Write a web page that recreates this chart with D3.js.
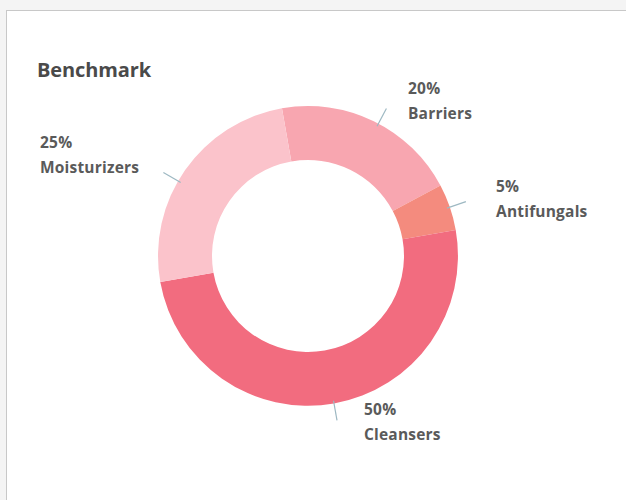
<!DOCTYPE html>
<html>
<head>
<meta charset="utf-8">
<script src="https://cdn.jsdelivr.net/npm/d3@7"></script>
<style>
  body { margin: 0; background: #f4f4f4; }
  svg { display: block; }
</style>
</head>
<body>
<svg id="chart" width="626" height="500"></svg>
<script>
// benchmark shares, in drawing order (clockwise from just left of top)
var categories = ["Barriers", "Antifungals", "Cleansers", "Moisturizers"];
var shares = [20, 5, 50, 25];
var colors = ["#f8a6b0", "#f48b7e", "#f26c7f", "#fbc3cb"];
var labelTexts = ["20%", "5%", "50%", "25%"];

var svg = d3.select('#chart');

//card
svg.append('rect')
    .attr('x', 6.5).attr('y', 10.5)
    .attr('width', 640).attr('height', 520)
    .attr('fill', '#fff')
    .attr('stroke', '#c8c8c8');

svg.append('text')
    .attr('x', 37).attr('y', 77)
    .attr('font-family', 'Open Sans, sans-serif')
    .attr('font-weight', 'bold')
    .attr('font-size', 20)
    .attr('fill', '#4a4a4a')
    .attr('letter-spacing', '-0.1')
    .text('Benchmark');

var cx = 308, cy = 256, rOuter = 150, rInner = 96;

var pie = d3.pie()
    .sort(null)
    .startAngle(-10 * Math.PI / 180)
    .endAngle(350 * Math.PI / 180);

var arcs = pie(shares);

var arc = d3.arc().innerRadius(rInner).outerRadius(rOuter);

var g = svg.append('g').attr('transform', 'translate(' + cx + ',' + cy + ')');

g.selectAll('path.slice')
    .data(arcs)
    .enter().append('path')
    .attr('class', 'slice')
    .attr('d', arc)
    .attr('fill', function(d, i){ return colors[i]; });

//leader lines - angle along the slice where the tick sits, and label anchor
var tickAngle = [28, 71, 170, 300];
var labelPos = [[408, 94], [496, 192], [364, 415], [40, 148]];

tickAngle.forEach(function(a, i){
    var rad = a * Math.PI / 180;
    var p1 = [(rOuter - 3) * Math.sin(rad), -(rOuter - 3) * Math.cos(rad)];
    var p2 = [(rOuter + 17) * Math.sin(rad), -(rOuter + 17) * Math.cos(rad)];
    g.append('line')
        .attr('x1', p1[0]).attr('y1', p1[1])
        .attr('x2', p2[0]).attr('y2', p2[1])
        .attr('stroke', '#9db8c2')
        .attr('stroke-width', 1.2);
});

var labels = svg.selectAll('g.lbl')
    .data(categories)
    .enter().append('g')
    .attr('class', 'lbl')
    .attr('transform', function(d, i){ return 'translate(' + labelPos[i][0] + ',' + labelPos[i][1] + ')'; });

labels.append('text')
    .attr('font-family', 'Open Sans, sans-serif')
    .attr('font-weight', 'bold')
    .attr('font-size', 15.5)
    .attr('letter-spacing', '0.2')
    .attr('fill', '#5a5a5a')
    .text(function(d, i){ return labelTexts[i]; });

labels.append('text')
    .attr('y', 25)
    .attr('font-family', 'Open Sans, sans-serif')
    .attr('font-weight', 'bold')
    .attr('font-size', 15.5)
    .attr('letter-spacing', '0.2')
    .attr('fill', '#5a5a5a')
    .text(function(d){ return d; });
</script>
</body>
</html>
